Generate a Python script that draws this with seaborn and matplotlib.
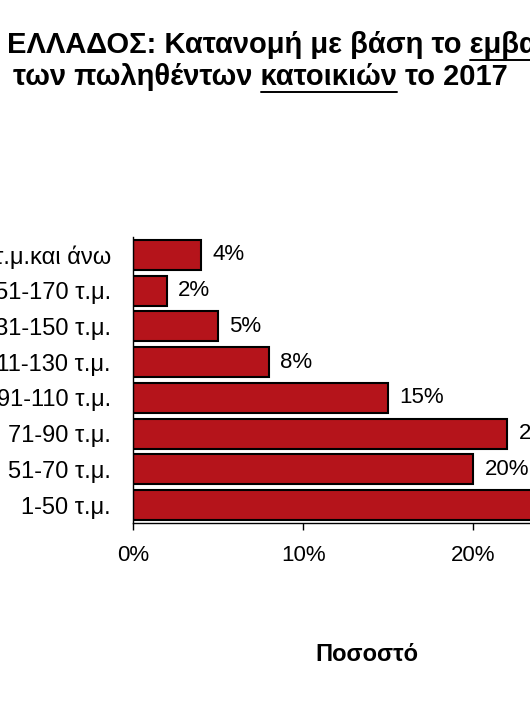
import numpy as np
import matplotlib
matplotlib.use('Agg')
import matplotlib.pyplot as plt
import seaborn as sns

# data
categories = ['171 τ.μ.και άνω', '151-170 τ.μ.', '131-150 τ.μ.', '111-130 τ.μ.',
              '91-110 τ.μ.', '71-90 τ.μ.', '51-70 τ.μ.', '1-50 τ.μ.']
values = [4, 2, 5, 8, 15, 22, 20, 24]
xticks = [0, 10, 20]
title_line1 = 'ΕΛΛΑΔΟΣ: Κατανομή με βάση το '
title_word1 = 'εμβαδόν'
title_line2 = 'των πωληθέντων '
title_word2 = 'κατοικιών'
title_tail2 = ' το 2017'
xlabel = 'Ποσοστό'

bar_color = '#B5141B'
W, H = 530, 706

sns.set_style('white')
plt.rcParams['font.family'] = ['Liberation Sans', 'DejaVu Sans']
plt.rcParams.update({'text.color': 'black', 'axes.labelcolor': 'black',
                     'xtick.color': 'black', 'ytick.color': 'black'})

fig = plt.figure(figsize=(W / 100, H / 100), dpi=100)
ax = fig.add_axes([133 / W, 1 - 523 / H, (601 - 133) / W, (523 - 237) / H])

sns.barplot(x=values, y=categories, color=bar_color, edgecolor='black',
            linewidth=1.5, width=0.84, saturation=1, ax=ax)
ax.set_xticks(xticks)
ax.set_xlim(0, 27.5)
ax.set_ylim(7.5, -0.5)
ax.xaxis.set_major_formatter(lambda v, p: f'{v:.0f}%')
ax.set_yticks(np.arange(-0.5, 8, 1), minor=True)
ax.tick_params(axis='y', which='major', length=0, pad=16, labelsize=17)
ax.tick_params(axis='y', which='minor', length=5, width=1, color='black', direction='out')
ax.tick_params(axis='x', which='major', length=5, width=1, color='black', direction='out',
               pad=11, labelsize=16, bottom=True)
for s in ['top', 'right']:
    ax.spines[s].set_visible(False)
for s in ['left', 'bottom']:
    ax.spines[s].set_color('black')
    ax.spines[s].set_linewidth(1)
ax.set_ylabel('')
ax.set_xlabel(xlabel, fontsize=17, fontweight='bold', va='baseline')
ax.xaxis.set_label_coords(0.5, (523 - 661) / (523 - 237))

for c in ax.containers:
    ax.bar_label(c, labels=[f'{v}%' for v in values], padding=8, fontsize=16)

# title with underlined words
renderer = fig.canvas.get_renderer()


def text_width(s, **kw):
    t = fig.text(0, 0, s, **kw)
    w = t.get_window_extent(renderer).width
    t.remove()
    return w


tkw = dict(fontsize=21, fontweight='bold')
lines = [(7, 53, title_line1, title_word1, ''), (13, 85, title_line2, title_word2, title_tail2)]
for x0, base, pre, word, tail in lines:
    full = pre + word + tail
    fig.text(x0 / W, 1 - base / H, full, va='baseline', ha='left', **tkw)
    start = text_width(pre + word, **tkw) - text_width(word, **tkw)
    wlen = text_width(word, **tkw)
    y = 1 - (base + 7) / H
    fig.add_artist(plt.Line2D([(x0 + start) / W, (x0 + start + wlen) / W], [y, y],
                              color='black', linewidth=1.4, transform=fig.transFigure))

fig.savefig('out.png', dpi=100)
